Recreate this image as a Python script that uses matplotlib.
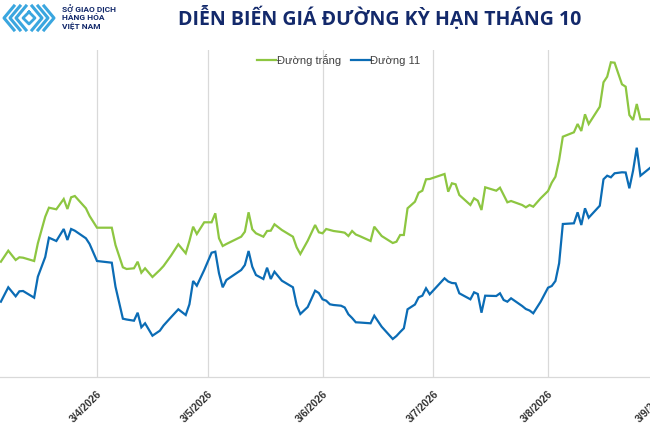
import matplotlib
matplotlib.use("Agg")
import matplotlib.pyplot as plt
import matplotlib.dates as mdates
from matplotlib.lines import Line2D
import pandas as pd

# data (no y-axis shown, heights in chart units)
dates = [
    "2026-03-08", "2026-03-10", "2026-03-12", "2026-03-13", "2026-03-14", "2026-03-17",
    "2026-03-18", "2026-03-20", "2026-03-21", "2026-03-23", "2026-03-25", "2026-03-26",
    "2026-03-27", "2026-03-28", "2026-03-31", "2026-04-01", "2026-04-03", "2026-04-07",
    "2026-04-08", "2026-04-10", "2026-04-11", "2026-04-13", "2026-04-14", "2026-04-15",
    "2026-04-16", "2026-04-18", "2026-04-20", "2026-04-21", "2026-04-23", "2026-04-25",
    "2026-04-27", "2026-04-28", "2026-04-29", "2026-04-30", "2026-05-02", "2026-05-04",
    "2026-05-05", "2026-05-06", "2026-05-07", "2026-05-08", "2026-05-12", "2026-05-13",
    "2026-05-14", "2026-05-15", "2026-05-16", "2026-05-18", "2026-05-19", "2026-05-20",
    "2026-05-21", "2026-05-23", "2026-05-26", "2026-05-27", "2026-05-28", "2026-05-30",
    "2026-06-01", "2026-06-02", "2026-06-03", "2026-06-04", "2026-06-05", "2026-06-06",
    "2026-06-08", "2026-06-09", "2026-06-10", "2026-06-11", "2026-06-12", "2026-06-13",
    "2026-06-16", "2026-06-17", "2026-06-19", "2026-06-22", "2026-06-23", "2026-06-24",
    "2026-06-25", "2026-06-26", "2026-06-28", "2026-06-29", "2026-06-30", "2026-07-01",
    "2026-07-02", "2026-07-06", "2026-07-07", "2026-07-08", "2026-07-09", "2026-07-10",
    "2026-07-13", "2026-07-14", "2026-07-15", "2026-07-16", "2026-07-17", "2026-07-20",
    "2026-07-21", "2026-07-22", "2026-07-23", "2026-07-24", "2026-07-27", "2026-07-28",
    "2026-07-29", "2026-07-30", "2026-08-01", "2026-08-03", "2026-08-04", "2026-08-05",
    "2026-08-06", "2026-08-07", "2026-08-10", "2026-08-11", "2026-08-12", "2026-08-13",
    "2026-08-14", "2026-08-17", "2026-08-18", "2026-08-19", "2026-08-20", "2026-08-21",
    "2026-08-23", "2026-08-24", "2026-08-25", "2026-08-26", "2026-08-27", "2026-08-28",
    "2026-08-31",
]

duong_trang = [
    114.8, 125.8, 116.5, 119.2, 118.8, 115.5, 133.2, 159.8, 168.8, 167.2, 177.5, 167.5,
    179.2, 180.5, 168.2, 160.5, 148.8, 148.8, 131.5, 109.2, 107.5, 108.2, 114.8, 103.8,
    108.2, 99.5, 106.5, 110.5, 120.8, 132.2, 123.2, 135.5, 149.8, 142.5, 154.2, 154.2,
    163.2, 138.2, 130.5, 132.5, 139.8, 144.8, 164.2, 147.2, 143.2, 139.8, 145.5, 145.8,
    152.2, 146.5, 139.8, 129.2, 122.5, 135.8, 151.5, 144.2, 143.2, 147.5, 146.5, 145.5,
    144.5, 143.8, 140.5, 145.5, 142.0, 140.5, 135.5, 149.8, 140.5, 133.5, 134.8, 141.5,
    141.5, 168.2, 174.8, 183.8, 185.8, 197.2, 197.5, 202.5, 184.8, 193.2, 192.2, 181.5,
    171.5, 178.2, 175.8, 166.5, 189.2, 185.8, 188.8, 181.5, 174.2, 175.5, 171.5, 169.2,
    171.5, 169.8, 178.2, 185.5, 193.8, 199.8, 216.5, 239.8, 244.2, 252.5, 245.5, 262.2,
    252.5, 269.8, 294.2, 299.8, 314.2, 313.8, 292.2, 289.8, 261.5, 256.5, 272.5, 257.2,
    257.2,
]

duong_11 = [
    74.8, 89.2, 80.2, 85.2, 85.5, 78.8, 99.8, 119.5, 138.8, 135.5, 147.5, 136.5,
    147.5, 145.8, 138.2, 132.5, 115.5, 113.8, 89.8, 57.8, 57.0, 55.8, 63.8, 49.2,
    53.2, 40.8, 45.8, 51.0, 59.2, 67.2, 61.5, 72.2, 95.5, 90.8, 106.5, 123.8,
    124.8, 103.2, 89.2, 96.5, 106.5, 111.5, 125.5, 109.8, 101.5, 97.5, 108.8, 97.5,
    104.8, 95.8, 89.2, 71.5, 62.5, 69.5, 85.8, 83.5, 77.2, 75.8, 72.2, 71.5,
    70.8, 69.0, 62.2, 58.5, 54.2, 54.0, 53.2, 60.8, 49.8, 37.5, 40.5, 44.5,
    48.2, 67.2, 72.0, 79.2, 80.8, 88.2, 82.2, 98.2, 95.0, 93.5, 93.2, 83.2,
    77.2, 84.2, 82.5, 63.8, 80.8, 80.5, 83.2, 76.5, 74.8, 78.2, 70.5, 67.5,
    66.0, 63.2, 74.8, 88.8, 90.5, 95.5, 113.2, 152.5, 153.2, 164.2, 151.5, 168.2,
    158.8, 170.8, 197.2, 200.8, 199.2, 203.2, 204.2, 204.0, 188.2, 205.8, 228.8, 200.8,
    209.8,
]

tick_dates = ["2026-04-03", "2026-05-03", "2026-06-03", "2026-07-03", "2026-08-03", "2026-09-03"]
tick_labels = ["3/4/2026", "3/5/2026", "3/6/2026", "3/7/2026", "3/8/2026", "3/9/2026"]

GREEN = "#8dc641"
BLUE = "#0b6cb5"
NAVY = "#13296b"

W, H = 650, 433
fig = plt.figure(figsize=(W / 100, H / 100), dpi=100)

x = pd.to_datetime(dates)
ticks = pd.to_datetime(tick_dates)

# axes run past the right edge so the chart looks cropped like the reference
px_per_day = 3.697
x_left = mdates.date2num(pd.Timestamp("2026-04-03")) - 97 / px_per_day
x_right = mdates.date2num(pd.Timestamp("2026-09-20"))
ax_w = (x_right - x_left) * px_per_day / W
ax = fig.add_axes([0, (H - 376.5) / H, ax_w, 326.5 / H])

ax.plot(x, duong_trang, color=GREEN, lw=1.6, label="Đường trắng", solid_joinstyle="miter")
ax.plot(x, duong_11, color=BLUE, lw=1.6, label="Đường 11", solid_joinstyle="miter")

ax.set_xlim(x_left, x_right)
ax.set_ylim(0, 326.5)
ax.set_xticks(ticks)
ax.set_xticklabels(tick_labels, rotation=45, ha="right", rotation_mode="anchor",
                   fontsize=7.5, color="#333333", family="Liberation Sans", fontweight="bold")
ax.tick_params(axis="x", length=0, pad=9)
ax.set_yticks([])
ax.grid(axis="x", color="#d9d9d9", lw=0.9)
for s in ["top", "left", "right"]:
    ax.spines[s].set_visible(False)
ax.spines["bottom"].set_color("#d9d9d9")
ax.spines["bottom"].set_linewidth(0.9)

leg = fig.legend(loc="center", bbox_to_anchor=(339 / W, 1 - 60 / H), ncol=2, frameon=False,
                 prop={"family": "Liberation Sans", "size": 8}, handlelength=1.7,
                 handletextpad=0.05, columnspacing=0.9)
for t in leg.get_texts():
    t.set_color("#404040")

fig.text(380 / W, 1 - 18 / H, "DIỄN BIẾN GIÁ ĐƯỜNG KỲ HẠN THÁNG 10", ha="center", va="center",
         fontsize=14, fontweight="bold", color=NAVY, family="Open Sans")

# logo: interlocking chevrons + exchange name
LOGO = "#3aa6df"
def px(xp, yp):
    return xp / W, 1 - yp / H
for off in [0, 6, 12]:
    xs, ys = zip(*[px(14 + off, 6), px(4 + off, 18), px(14 + off, 30)])
    fig.add_artist(Line2D(xs, ys, color=LOGO, lw=2.2))
    xs, ys = zip(*[px(44 - off, 6), px(54 - off, 18), px(44 - off, 30)])
    fig.add_artist(Line2D(xs, ys, color=LOGO, lw=2.2))
xs, ys = zip(*[px(29, 12), px(35, 18), px(29, 24), px(23, 18), px(29, 12)])
fig.add_artist(Line2D(xs, ys, color=LOGO, lw=2.0))
for i, line in enumerate(["SỞ GIAO DỊCH", "HÀNG HÓA", "VIỆT NAM"]):
    fig.text(62 / W, 1 - (9 + 8.5 * i) / H, line, ha="left", va="center", fontsize=6,
             fontweight="bold", color=NAVY, family="Roboto")

fig.savefig("out.png", dpi=100)
